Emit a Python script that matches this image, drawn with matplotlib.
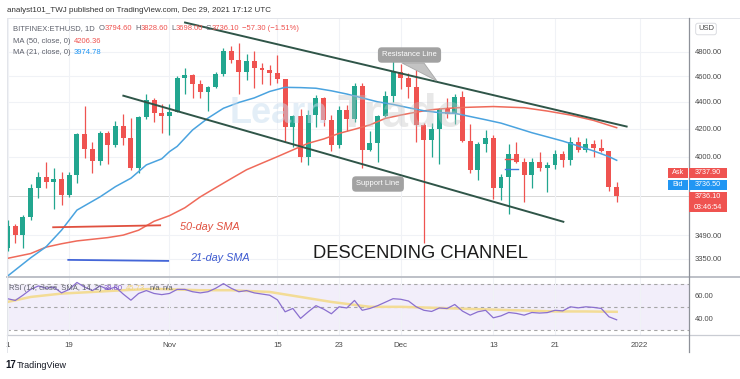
import numpy as np
import pandas as pd
import matplotlib
matplotlib.use("Agg")
import matplotlib.pyplot as plt
from matplotlib.patches import Rectangle, Polygon
from matplotlib.ticker import NullLocator, NullFormatter

plt.rcParams["font.family"] = ["Liberation Sans", "DejaVu Sans"]

W, H = 740, 379
T0 = pd.Timestamp("2021-10-01")

# BITFINEX:ETHUSD daily candles, Oct 11 - Dec 29 2021
dates = pd.date_range("2021-10-11", "2021-12-29", freq="D")
opens = [3414, 3543, 3490, 3604, 3786, 3864, 3830, 3847, 3745, 3876, 4158, 4053, 3968, 4168, 4085, 4217, 4130, 3925, 4285, 4415, 4318,
         4290, 4322, 4584, 4607, 4538, 4476, 4518, 4615, 4810, 4735, 4630, 4725, 4667, 4649, 4626, 4575, 4215, 4290, 3995, 4300,
         4430, 4265, 4085, 4340, 4272, 4525, 4045, 4095, 4295, 4445,
         4632, 4586, 4518, 4225, 4120, 4200, 4346, 4308, 4436, 4110, 3905, 4090, 4135, 3786, 3862, 4020, 3960, 3875, 3960, 3925,
         3940, 4015, 3978, 4105, 4048, 4092, 4064, 4037, 3794.6]
highs = [3580, 3560, 3615, 3815, 3897, 3966, 3920, 3895, 3895, 4165, 4370, 4100, 4180, 4180, 4255, 4310, 4280, 4295, 4460, 4430, 4380,
         4380, 4600, 4665, 4620, 4570, 4525, 4635, 4830, 4850, 4870, 4780, 4810, 4710, 4690, 4775, 4580, 4300, 4345, 4340, 4450,
         4440, 4300, 4370, 4375, 4550, 4550, 4180, 4300, 4480, 4720,
         4700, 4625, 4650, 4240, 4240, 4355, 4430, 4460, 4480, 4230, 4100, 4190, 4150, 3880, 4090, 4105, 3990, 3990, 4035, 3960,
         4050, 4040, 4140, 4140, 4130, 4120, 4125, 4040, 3828.6]
lows = [3395, 3440, 3410, 3580, 3720, 3790, 3650, 3680, 3730, 3820, 3990, 3890, 3945, 3950, 4065, 4080, 3905, 3890, 4270, 4250, 4165,
        4150, 4320, 4460, 4430, 4430, 4330, 4510, 4605, 4710, 4460, 4570, 4510, 4540, 4530, 4545, 4105, 4070, 3960, 3940, 4210,
        4220, 4040, 4060, 4180, 4250, 3920, 4040, 3965, 4285, 4400,
        4500, 4430, 4100, 3440, 4000, 3950, 4280, 4230, 4100, 3890, 3840, 4030, 3715, 3710, 3620, 3955, 3700, 3790, 3900, 3760,
        3915, 3930, 3940, 4030, 4035, 4000, 4030, 3765, 3698]
closes = [3543, 3490, 3604, 3786, 3864, 3830, 3847, 3745, 3876, 4158, 4053, 3968, 4168, 4085, 4217, 4130, 3925, 4285, 4415, 4318, 4290,
          4322, 4584, 4607, 4538, 4476, 4518, 4615, 4810, 4735, 4630, 4725, 4667, 4649, 4626, 4575, 4215, 4290, 3995, 4300, 4430,
          4265, 4085, 4340, 4272, 4525, 4045, 4095, 4295, 4445, 4632,
          4586, 4518, 4225, 4120, 4200, 4346, 4308, 4436, 4110, 3905, 4090, 4135, 3786, 3862, 4020, 3960, 3875, 3960, 3925, 3940,
          4015, 3978, 4105, 4048, 4092, 4064, 4037, 3793, 3736.1]

ma50_dates = ["2021-10-11", "2021-10-14", "2021-10-16", "2021-10-18", "2021-10-20", "2021-10-22", "2021-10-24", "2021-10-26",
              "2021-10-28", "2021-10-30", "2021-11-01", "2021-11-03", "2021-11-05", "2021-11-07", "2021-11-09", "2021-11-11",
              "2021-11-13", "2021-11-15", "2021-11-17", "2021-11-19", "2021-11-21", "2021-11-23", "2021-11-25", "2021-11-27",
              "2021-11-29", "2021-12-01", "2021-12-03", "2021-12-05", "2021-12-07", "2021-12-09", "2021-12-13", "2021-12-17",
              "2021-12-20", "2021-12-23", "2021-12-26", "2021-12-29"]
ma50_vals = [3352, 3380, 3418, 3438, 3455, 3465, 3475, 3490, 3520, 3575, 3610, 3660, 3730, 3790, 3850, 3910,
             3955, 4000, 4047, 4094, 4125, 4165, 4195, 4227, 4275, 4300, 4322, 4340, 4350, 4357, 4364, 4355,
             4330, 4300, 4260, 4206.36]

ma21_dates = ["2021-10-11", "2021-10-14", "2021-10-16", "2021-10-18", "2021-10-20", "2021-10-23", "2021-10-25", "2021-10-27",
              "2021-10-29", "2021-10-31", "2021-11-01", "2021-11-02", "2021-11-04", "2021-11-06", "2021-11-08", "2021-11-10",
              "2021-11-12", "2021-11-14", "2021-11-16", "2021-11-18", "2021-11-20", "2021-11-22", "2021-11-24", "2021-11-26",
              "2021-11-28", "2021-11-30", "2021-12-02", "2021-12-04", "2021-12-06", "2021-12-08", "2021-12-10", "2021-12-12",
              "2021-12-14", "2021-12-16", "2021-12-18", "2021-12-20", "2021-12-22", "2021-12-24", "2021-12-26", "2021-12-28",
              "2021-12-29"]
ma21_vals = [3250, 3355, 3420, 3520, 3645, 3730, 3797, 3853, 3943, 3985, 4035, 4072, 4190, 4277, 4351, 4395,
             4430, 4480, 4512, 4510, 4505, 4485, 4460, 4430, 4400, 4380, 4355, 4332, 4318, 4313, 4289, 4265,
             4240, 4205, 4170, 4140, 4110, 4075, 4040, 4000, 3974.78]

rsi_vals = [57, 55.5, 60, 65, 68, 66, 67, 62, 65, 71, 67, 64, 68, 65, 67, 61, 55.7, 61.5, 64, 61.5, 60.5,
            61.5, 65, 65, 63, 62, 63, 66, 70, 66, 63, 64, 62, 61, 60, 56, 45.7, 48.6, 40, 45.7, 51,
            48, 44, 50, 49, 55.5, 47, 48.6, 51, 54, 57,
            56.5, 55, 50, 47, 46, 49, 48.5, 52, 46.3, 42.8, 45.7, 47, 40.5, 42.2, 45.1, 44.3, 42.8, 45.1, 44.6, 45,
            47, 46.5, 50, 49.1, 50, 49.5, 48.6, 41.4, 38.8]
rsi_ma_dates = ["2021-10-11", "2021-10-14", "2021-10-18", "2021-10-22", "2021-10-26", "2021-10-30", "2021-11-05", "2021-11-09",
                "2021-11-14", "2021-11-18", "2021-11-22", "2021-11-27", "2021-12-01", "2021-12-06", "2021-12-11", "2021-12-16",
                "2021-12-21", "2021-12-25", "2021-12-29"]
rsi_ma_vals = [54.2, 58.5, 61.4, 62.8, 64.3, 65.5, 64.3, 64.3, 62.8, 58.5, 54.2, 50.0, 50.0, 49.0, 48.0, 47.0, 46.0, 46.0, 45.7]

# hand drawn lines: (date, price)
resist_pts = [("2021-11-03 00:30", 5050), ("2021-12-30 07:00", 4215)]
support_pts = [("2021-10-26 00:30", 4447), ("2021-12-22 02:00", 3572)]
sma50_key = [("2021-10-16 22:00", 3538), ("2021-10-30 19:00", 3550)]
sma21_key = [("2021-10-18 21:00", 3343), ("2021-10-31 20:00", 3337)]
red_mark = [("2021-12-14 11:00", 3982), ("2021-12-15 21:00", 3982)]
blue_mark = [("2021-12-14 11:00", 3913), ("2021-12-16 05:00", 3913)]

price_ticks = [4800, 4600, 4400, 4200, 4000, 3490, 3350]
rsi_ticks = [60, 40]
date_ticks = ["2021-10-11", "2021-10-19", "2021-11-01", "2021-11-15", "2021-11-23",
              "2021-12-01", "2021-12-13", "2021-12-21", "2022-01-01"]
date_labels = ["1", "19", "Nov", "15", "23", "Dec", "13", "21", "2022"]

last_price = 3736.10

GREEN = "#22a68f"
RED = "#ef5350"
GRID = "#f0f2f6"
TXT = "#4a4a4a"


def day(s):
    return (pd.Timestamp(s) - T0) / pd.Timedelta(days=1)


def fx(x):
    return x / W


def fy(y):
    return 1 - y / H


fig = plt.figure(figsize=(W / 100, H / 100), dpi=100)
fig.patch.set_facecolor("white")

ax = fig.add_axes([fx(7), fy(277), (689 - 7) / W, (277 - 18) / H])
ar = fig.add_axes([fx(7), fy(335), (689 - 7) / W, (335 - 277) / H], sharex=ax)

xd = np.array([day(d) for d in dates])
o = np.array(opens)
c = np.array(closes)
up = c >= o
col = np.where(up, GREEN, RED)
body_lo = np.minimum(o, c)
body_h = np.maximum(np.abs(c - o), 6)

ax.vlines(xd, lows, highs, colors=col, lw=0.9, zorder=3)
ax.bar(xd, body_h, bottom=body_lo, width=0.64, color=col, zorder=4, linewidth=0)

ax.plot([day(d) for d in ma50_dates], ma50_vals, color="#ef6a5a", lw=1.1, zorder=5)
ax.plot([day(d) for d in ma21_dates], ma21_vals, color="#4aa3df", lw=1.1, zorder=5)

for pts in (resist_pts, support_pts):
    ax.plot([day(p[0]) for p in pts], [p[1] for p in pts], color="#2f5548", lw=1.4, zorder=6)
ax.plot([day(p[0]) for p in sma50_key], [p[1] for p in sma50_key], color="#e0503f", lw=1.3, zorder=6)
ax.plot([day(p[0]) for p in sma21_key], [p[1] for p in sma21_key], color="#4466d8", lw=1.3, zorder=6)
ax.plot([day(p[0]) for p in red_mark], [p[1] for p in red_mark], color=RED, lw=1.0, zorder=6)
ax.plot([day(p[0]) for p in blue_mark], [p[1] for p in blue_mark], color="#3d7be0", lw=1.0, zorder=6)

ax.axhline(last_price, color="#d8d8d8", lw=0.7, zorder=1)

ax.set_yscale("log")
ax.set_ylim(3245, 5090)
ax.set_xlim(9.93, 98.38)
ax.yaxis.set_minor_locator(NullLocator())
ax.yaxis.set_minor_formatter(NullFormatter())
ax.set_yticks(price_ticks)
ax.set_yticklabels(["%.2f" % v for v in price_ticks])
ax.yaxis.tick_right()
ax.tick_params(axis="y", length=0, pad=4, labelsize=5.5, labelcolor=TXT)
ax.tick_params(axis="x", length=0, labelbottom=False)
ax.set_xticks([day(d) for d in date_ticks])
ax.grid(True, color=GRID, lw=0.8, zorder=0)
for s in ax.spines.values():
    s.set_visible(False)

# RSI pane
ar.axhspan(30, 70, color="#f2eefa", zorder=0, lw=0)
for lvl in (70, 50, 30):
    ar.axhline(lvl, color="#a5a5a5", lw=0.8, ls=(0, (3, 3)), zorder=1)
ar.plot([day(d) for d in rsi_ma_dates], rsi_ma_vals, color="#f3dc96", lw=1.8, zorder=2)
ar.plot(xd, rsi_vals, color="#8a6fcf", lw=0.9, zorder=3)
ar.set_ylim(25.7, 75.7)
ar.set_yticks(rsi_ticks)
ar.set_yticklabels(["%.2f" % v for v in rsi_ticks])
ar.yaxis.tick_right()
ar.tick_params(axis="y", length=0, pad=4, labelsize=5.5, labelcolor=TXT)
ar.set_xticks([day(d) for d in date_ticks])
ar.set_xticklabels(date_labels)
ar.tick_params(axis="x", length=0, pad=5, labelsize=5.7, labelcolor=TXT)
ar.grid(True, axis="x", color=GRID, lw=0.8, zorder=0)
for s in ar.spines.values():
    s.set_visible(False)


# frame lines
def hline(y, x0, x1, color, lw):
    fig.add_artist(plt.Line2D([fx(x0), fx(x1)], [fy(y), fy(y)], color=color, lw=lw))


def vline(x, y0, y1, color, lw):
    fig.add_artist(plt.Line2D([fx(x), fx(x)], [fy(y0), fy(y1)], color=color, lw=lw))


hline(18, 7, 740, "#e3e5ea", 0.7)
hline(277, 7, 740, "#b8bbc3", 1.3)
hline(335, 7, 740, "#c9ccd3", 0.9)
vline(7, 18, 352, "#e3e5ea", 0.7)
vline(689, 18, 352, "#8e9199", 0.9)

# watermark
fig.text(fx(230), fy(123), "Learn", fontsize=26, fontweight="bold", color="#c9def0", alpha=0.5, va="baseline", zorder=7)
fig.text(fx(338), fy(127), "Trade", fontsize=34, fontweight="bold", color="#c4c4c4", alpha=0.38, va="baseline", zorder=7)

# callouts
fig.add_artist(Polygon([[fx(402), fy(63)], [fx(424), fy(63)], [fx(437), fy(81)]], closed=True,
                       facecolor="#b5b5b5", edgecolor="#9a9a9a", lw=0.6, alpha=0.8, transform=fig.transFigure))
fig.text(fx(409.5), fy(55), "Resistance Line", fontsize=5.5, color="white", ha="center", va="center", zorder=9,
         bbox=dict(boxstyle="round,pad=0.55,rounding_size=0.5", fc="#a2a2a2", ec="none"))
fig.text(fx(378), fy(184), "Support Line", fontsize=5.5, color="white", ha="center", va="center", zorder=9,
         bbox=dict(boxstyle="round,pad=0.55,rounding_size=0.5", fc="#a2a2a2", ec="none"))

fig.text(fx(180), fy(227), "50-day SMA", fontsize=7.8, style="italic", color="#e0503f", va="center")
fig.text(fx(190), fy(258), "21-day SMA", fontsize=7.8, style="italic", color="#3d5ad0", va="center")
fig.text(fx(313), fy(253), "DESCENDING CHANNEL", fontsize=13.2, color="#1c1c1c", va="center")

# header and legends
fig.text(fx(7), fy(10), "analyst101_TWJ published on TradingView.com, Dec 29, 2021 17:12 UTC",
         fontsize=5.8, color="#333333", va="center")

renderer = fig.canvas.get_renderer()


def seq(x, y, parts, size=5.5):
    for s, color, gap in parts:
        t = fig.text(fx(x), fy(y), s, fontsize=size, color=color, va="center", ha="left", zorder=9)
        x += t.get_window_extent(renderer=renderer).width + gap


LG = "#5d606b"
seq(13, 29, [("BITFINEX:ETHUSD, 1D", LG, 4), ("O", LG, 0), ("3794.60", RED, 3), ("H", LG, 0), ("3828.60", RED, 3),
             ("L", LG, 0), ("3698.00", RED, 3), ("C", LG, 0), ("3736.10", RED, 3), ("\u221257.30 (\u22121.51%)", RED, 0)])
seq(13, 41.7, [("MA (50, close, 0)", LG, 3), ("4206.36", RED, 0)])
seq(13, 52.3, [("MA (21, close, 0)", LG, 3), ("3974.78", "#2196f3", 0)])
seq(9, 288, [("RSI (14, close, SMA, 14, 2)", LG, 2), ("38.80", "#7e57c2", 3), ("45.73", "#f0d27a", 5),
             ("n/a", LG, 2), ("n/a", LG, 0)])

# price scale tags
fig.text(fx(698), fy(29), "USD", fontsize=5.5, color=TXT, va="center",
         bbox=dict(boxstyle="round,pad=0.3", fc="white", ec="#d5d7dc", lw=0.6))


def tag(x0, y0, x1, y1, color, lines):
    fig.add_artist(Rectangle((fx(x0), fy(y1)), (x1 - x0) / W, (y1 - y0) / H, transform=fig.transFigure,
                             facecolor=color, edgecolor="none", zorder=8))
    n = len(lines)
    for i, s in enumerate(lines):
        yy = y0 + (y1 - y0) * (i + 0.5) / n
        fig.text(fx((x0 + x1) / 2), fy(yy), s, fontsize=5.2, color="white", ha="center", va="center", zorder=9)


tag(668, 168, 688, 178, RED, ["Ask"])
tag(689, 168, 727, 178, RED, ["3737.90"])
tag(668, 180, 688, 190, "#2196f3", ["Bid"])
tag(689, 180, 727, 190, "#2196f3", ["3736.50"])
tag(689, 192, 727, 212, RED, ["3736.10", "03:46:54"])

# footer logo
fig.text(fx(5), fy(365), "17", fontsize=7, fontweight="bold", color="#131722", va="center")
fig.text(fx(17), fy(365), "TradingView", fontsize=6.5, color="#131722", va="center")

fig.savefig("out.png", dpi=100, facecolor="white")
